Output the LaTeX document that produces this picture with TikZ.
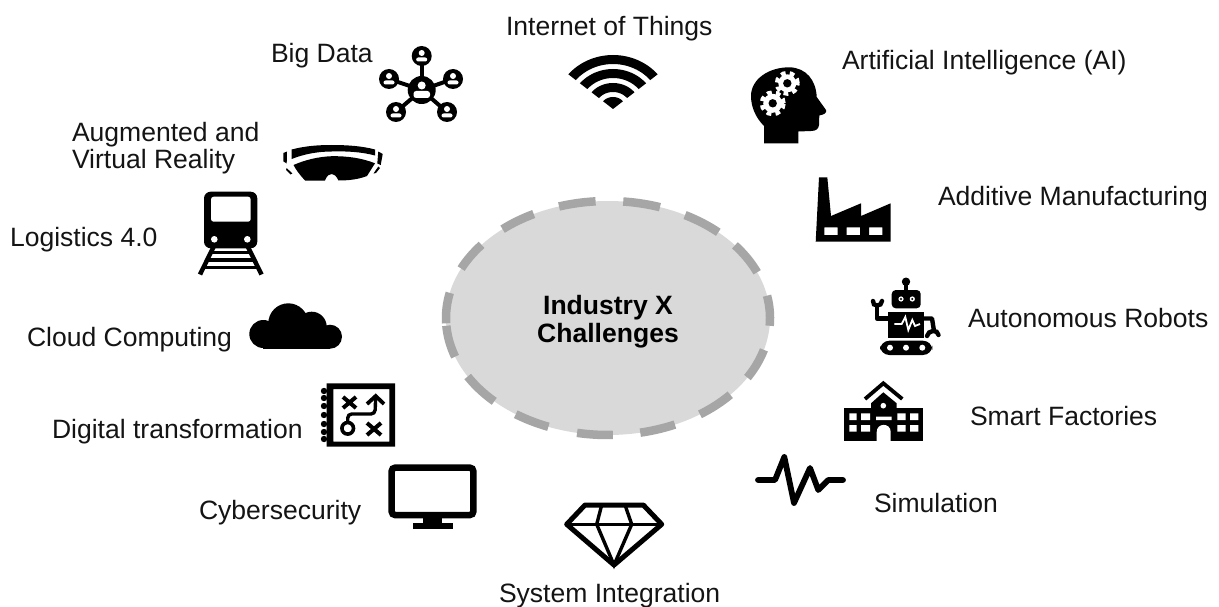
\documentclass[tikz,border=0pt]{standalone}
\usepackage{fontspec}
\setmainfont{Liberation Sans}
\usetikzlibrary{shapes.geometric}
\def\u{.75pt}
\tikzset{
  lbl/.style={inner sep=0pt,outer sep=0pt,font=\fontsize{19.9}{21}\selectfont,text=black!92},
  dashseg/.style={draw=dashgrey,line width=8.5*\u,line cap=butt},
  inkline/.style={draw=black,line width=#1*\u},
  paperline/.style={draw=white,line width=#1*\u},
}
\definecolor{dashgrey}{HTML}{A6A6A6}
\definecolor{hubgrey}{HTML}{D9D9D9}
\begin{document}
\begin{tikzpicture}[x=.75pt,y=-.75pt]
\useasboundingbox (0,0) rectangle (1219,606);
\fill[white] (0,0) rectangle (1219,606);

% hub
\node[ellipse,fill=hubgrey,draw=none,inner sep=0pt,minimum width=324*\u,minimum height=234*\u] (hub) at (608,318) {};
\node[font=\fontsize{19.9}{21}\selectfont\bfseries,inner sep=0pt,anchor=center] (hubA) at (608,308) {Industry X};
\node[font=\fontsize{19.9}{21}\selectfont\bfseries,inner sep=0pt,anchor=center] (hubB) at (608,336) {Challenges};
\foreach \a/\b in {107.6/94.4,84.6/71.3,61.6/47.1,38.4/23,11/-3.8,-15.8/-30.6,-41/-55.4,-65.6/-78.5,-88.3/-101,-111.6/-124.7,-134.6/-150,-160.7/-176.2,182.6/167.6,155/141.3,130.6/117.3}
  \draw[dashseg] plot[domain=\a:\b,samples=12,smooth] ({608+162*cos(\x)},{318-117*sin(\x)});

% labels
\node[lbl,anchor=west] (iot) at (506,29) {Internet of Things};
\node[lbl,anchor=west] (bigdata) at (271,56) {Big Data};
\node[lbl,anchor=west] (ai) at (842,63) {Artificial Intelligence (AI)};
\node[lbl,anchor=west] (ar1) at (72,135) {Augmented and};
\node[lbl,anchor=west] (ar2) at (72,162) {Virtual Reality};
\node[lbl,anchor=west] (am) at (938,199) {Additive Manufacturing};
\node[lbl,anchor=west] (log) at (10,240) {Logistics 4.0};
\node[lbl,anchor=west] (rob) at (968,318) {Autonomous Robots};
\node[lbl,anchor=west] (cloud) at (27,340) {Cloud Computing};
\node[lbl,anchor=west] (smart) at (970,416) {Smart Factories};
\node[lbl,anchor=west] (dig) at (52,432) {Digital transformation};
\node[lbl,anchor=west] (sim) at (874,503) {Simulation};
\node[lbl,anchor=west] (cyber) at (199,513) {Cybersecurity};
\node[lbl,anchor=west] (sys) at (499,596) {System Integration};

% wifi
\foreach \ro/\ri in {54/45,40/31,26/17,12/0}
  \fill[black] plot[domain=40:140,samples=25] ({613+1.08*\ro*cos(\x)},{109-\ro*sin(\x)})
    -- plot[domain=140:40,samples=25] ({613+1.08*\ri*cos(\x)},{109-\ri*sin(\x)}) -- cycle;

% big data
\foreach \x/\y in {421.7/56,389/79,453/79,396/112,447/112}{
  \draw[inkline=4] (421.7,90) -- (\x,\y);
  \fill[black] (\x,\y) circle[radius=10*\u];
  \fill[white] (\x,\y-3) circle[radius=3*\u];
  \fill[white,rounded corners=1.5pt] (\x-5.5,\y+1.5) rectangle (\x+5.5,\y+5.5);
}
\fill[black] (421.7,90) circle[radius=14*\u];
\fill[white] (421.7,85.5) circle[radius=4*\u];
\fill[white,rounded corners=2pt] (413.5,91) rectangle (430,98);

% head with gears
\fill[black] (764,143.5) -- (764,126) .. controls (755,117) and (751,106) .. (751,96)
  .. controls (751,79) and (769,67) .. (790,67.3)
  .. controls (806,68) and (816,80) .. (816.7,97)
  -- (826,110) .. controls (827,113) and (824,114.5) .. (819.3,115.5)
  -- (819,125) .. controls (818.5,129) and (816,131) .. (811,131) -- (798.3,131.5) -- (798.3,143.5) -- cycle;
\foreach \cx/\cy/\r in {787.3/83.3/9,772.7/103.3/9.5}{
  \fill[white] (\cx,\cy) circle[radius=\r*\u];
  \draw[white,line width=4*\u,dash pattern=on 3.6pt off 3.2pt] (\cx,\cy) circle[radius=\r*\u+1.5*\u];
  \fill[black] (\cx,\cy) circle[radius=4.2*\u];
}

% glasses
\fill[black] (291.7,149.5) .. controls (305,146) and (318,145) .. (331.7,145)
  .. controls (347,145) and (362,146) .. (375,149.5) -- (375,155.5)
  .. controls (362,152) and (347,151) .. (331.7,151.5)
  .. controls (318,151.5) and (304,154) .. (291.7,159) -- cycle;
\fill[black] (293.5,165) .. controls (305,160) and (318,156.7) .. (331.7,156.2)
  .. controls (347,156) and (362,158) .. (375,163.3) -- (367,176)
  .. controls (358,179.5) and (348,180.5) .. (338.5,180.5)
  .. controls (336,175.5) and (334,174) .. (331.7,174)
  .. controls (329,174) and (327,175.5) .. (325,180.5)
  -- (305,180.5) .. controls (300,175) and (296,170) .. (293.5,165) -- cycle;
\fill[black] (283.3,153) -- (287,151.5) -- (286.7,163.5) -- (283.5,161.5) -- cycle;
\fill[black] (286.7,168) -- (292.3,173.5) -- (290.5,174.5) -- (286,170) -- cycle;
\fill[black] (378.3,151.5) -- (382.7,154) -- (380.7,165) -- (377.3,163.5) -- cycle;
\fill[black] (378.3,166.5) -- (373.5,173.5) -- (376,173) -- (380,168) -- cycle;

% train
\fill[black,rounded corners=5pt] (204,191.7) rectangle (257.3,248.3);
\fill[white,rounded corners=2pt] (211,196.7) rectangle (250.7,221.7);
\fill[white] (214.3,239.3) circle[radius=3.3*\u] (247.3,239.3) circle[radius=3.3*\u];
\draw[inkline=4.5] (213.5,247) -- (200,274.5);
\draw[inkline=4.5] (248,247) -- (261.5,274.5);
\draw[inkline=3.4] (210,252.7) -- (252,252.7) (206.5,260) -- (255,260) (203,267.3) -- (258.5,267.3);

% cloud
\fill[black] (263.3,334) circle[radius=14*\u] (288.3,323.3) circle[radius=20*\u]
  (311.7,326.7) circle[radius=15*\u] (330,336.7) circle[radius=12*\u];
\fill[black] (263.3,330) rectangle (330,348.5);

% factory
\fill[black,even odd rule] (815.7,241.7) -- (819,177.3) -- (827.3,177.3) -- (831,216) -- (861,203.3) -- (861,216) -- (890.7,203.3) -- (890.7,241.7) -- cycle
  (824.3,227.3) rectangle (837.7,235) (846.7,227.3) rectangle (860,235) (869,227.3) rectangle (882.3,235);

% robot
\draw[inkline=3.5] (906,282) -- (906,291);
\fill[black] (906,281.7) circle[radius=4.2*\u];
\fill[black,rounded corners=3pt] (891.7,290) rectangle (920.7,308.3);
\foreach \x in {901,912.3}{
  \fill[white] (\x,299) circle[radius=2.6*\u];
  \fill[black] (\x,299) circle[radius=1.1*\u];
}
\fill[black] (888.3,311.7) rectangle (924,338.3);
\draw[paperline=1.8] (894.3,324) -- (901.7,324) -- (905.3,317) -- (908.3,330) -- (912.3,320) -- (915,326) -- (920,324);
\draw[inkline=4.4,line join=round] (888.5,318.5) -- (877,318.5) -- (877,306);
\draw[inkline=4.4,line cap=round] (873,301) .. controls (872,307) and (882,307) .. (882,301);
\draw[inkline=4.4,line join=round] (924,318.5) -- (932,318.5) -- (934,331);
\draw[inkline=4.4,line cap=round] (927,336) .. controls (928,330) and (938,329) .. (938.5,335);
\fill[black,rounded corners=7pt] (880,340.7) rectangle (932.3,355);
\fill[white] (890,347.7) circle[radius=3*\u] (906,347.7) circle[radius=3*\u] (922.3,347.7) circle[radius=3*\u];

% school
\draw[inkline=3.8,line cap=butt] (865,399) -- (883.3,383.3) -- (902.3,399);
\fill[black] (844,408.3) rectangle (923.3,440.7);
\fill[black] (871,440.7) -- (871,403.3) -- (883.3,392.3) -- (896.7,403.3) -- (896.7,440.7) -- cycle;
\fill[white] (849.3,413.3) rectangle (856.7,420) (861,413.3) rectangle (870,420)
  (849.3,425) rectangle (856.7,431.7) (861,425) rectangle (870,431.7)
  (897.3,413.3) rectangle (905.7,420) (910,413.3) rectangle (918.3,420)
  (897.3,425) rectangle (905.7,431.7) (910,425) rectangle (918.3,431.7)
  (876,416.7) rectangle (891.7,420);
\fill[white] (883.3,405.7) circle[radius=2.8*\u];
\fill[white] (876.7,441) -- (876.7,432) .. controls (876.7,422.5) and (890.7,422.5) .. (890.7,432) -- (890.7,441) -- cycle;

% simulation pulse
\draw[inkline=5.8,line join=round,line cap=round] (758,480) -- (775,480) -- (784.3,457) -- (794,503) -- (810,468) -- (818.3,490) -- (828.3,480) -- (843,480);

% notebook map
\foreach \y in {391,398,406,415,424,432,439}
  \fill[black] (324,\y) circle[radius=3.2*\u];
\fill[black,even odd rule] (326.7,383.3) rectangle (395,446.7) (333.3,389) rectangle (389.3,441.7);
\draw[inkline=4] (343,397) -- (356,408) (356,397) -- (343,408);
\draw[inkline=4] (367,423) -- (381,435) (381,423) -- (367,435);
\draw[inkline=3.6] (347.7,428.3) circle[radius=5.8*\u];
\draw[inkline=3.4,rounded corners=3pt] (347.7,422) -- (347.7,414) -- (375,414) -- (375.7,397);
\draw[inkline=3.8,line join=miter] (367,404) -- (375.7,396) -- (384,404);

% monitor
\draw[inkline=6.5,rounded corners=2.5pt] (391.7,467.7) rectangle (473.3,515);
\fill[black] (423.3,517) rectangle (441.7,524);
\fill[black] (412.7,523.3) rectangle (452.7,529);

% diamond
\draw[inkline=5,line join=round] (585,505) -- (643.3,505) -- (661.7,524.3) -- (614,565) -- (566.7,524.3) -- cycle;
\draw[inkline=3.4] (566.7,524.3) -- (661.7,524.3);
\draw[inkline=3.4] (601.7,505) -- (596.7,524.3) -- (614,565) -- (631.7,524.3) -- (625,505);
\end{tikzpicture}
\end{document}
